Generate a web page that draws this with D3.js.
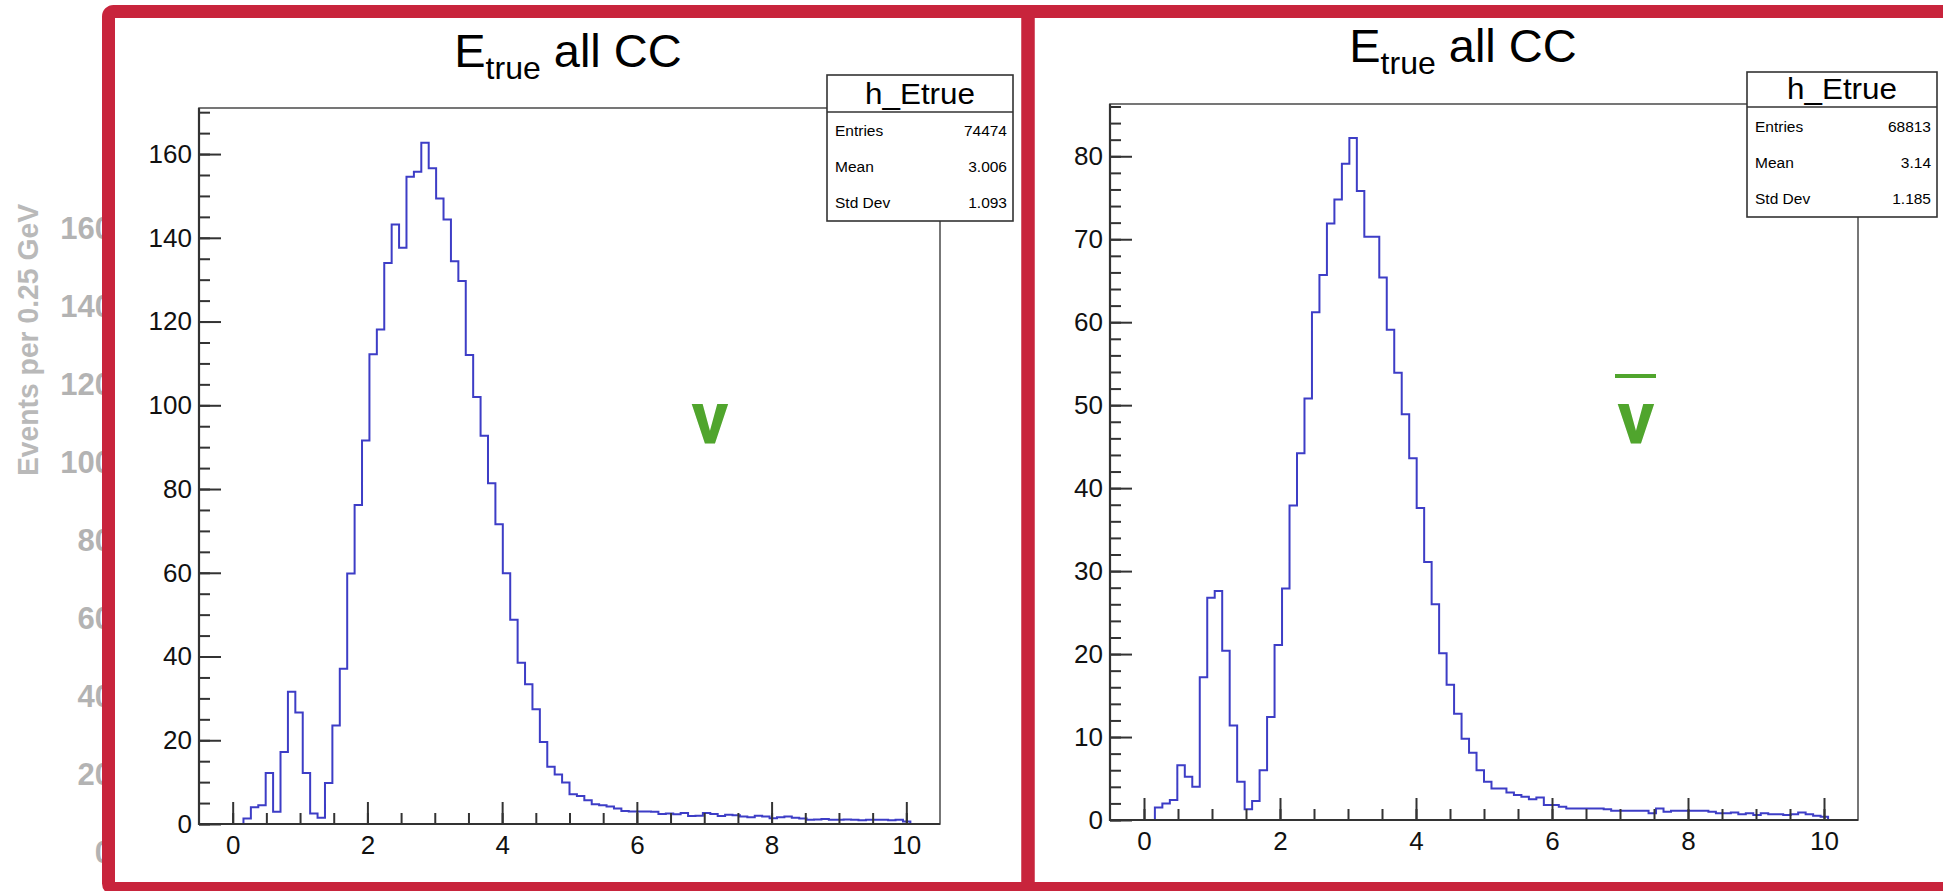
<!DOCTYPE html>
<html>
<head>
<meta charset="utf-8">
<script src="https://cdn.jsdelivr.net/npm/d3@7"></script>
<style>
  html, body { margin: 0; padding: 0; background: #ffffff; }
  svg { display: block; }
  text { font-family: "Liberation Sans", Arial, Helvetica, sans-serif; }
</style>
</head>
<body>
<svg id="chart" width="1943" height="891"></svg>
<script>
// Histogram binning: 100 bins of 0.11 GeV from -0.5 to 10.5; counts start at bin 6
const binLow = -0.5;
const binWidth = 0.11;
const firstFilledBin = 6;

// Neutrino (nu) CC true-energy histogram contents, bins 6..95
const nuCounts = [1.3, 4.0, 4.5, 12.2, 2.9, 17.2, 31.6, 26.6, 12.2, 2.5, 1.5, 9.8, 23.5, 37.1, 59.8, 76.2,
  91.6, 112.2, 118.1, 134.0, 143.2, 137.6, 154.6, 155.8, 162.7, 156.6, 149.4, 144.4, 134.4, 129.7, 112.0, 102.0,
  92.7, 81.4, 71.6, 59.9, 48.8, 38.5, 33.4, 27.4, 19.6, 13.7,
  11.8, 9.9, 7.1, 6.7, 5.7, 4.7, 4.5, 4.2, 3.7, 3.1, 3.0, 3.0, 3.0, 2.9, 2.4, 2.5, 2.3, 2.6, 1.9, 2.0,
  2.6, 2.4, 1.9, 2.2, 2.1, 1.8, 1.6, 2.0, 1.8, 1.4, 1.6, 1.8, 1.5, 1.3, 1.0, 1.1, 1.2, 1.0, 1.0, 1.1,
  1.0, 0.9, 1.0, 1.0, 1.0, 0.9, 1.0, 0.6];

// Antineutrino (nu-bar) CC true-energy histogram contents, bins 6..95
const nubarCounts = [1.5, 2.0, 2.4, 6.6, 5.2, 4.0, 17.2, 26.8, 27.6, 20.4, 11.4, 4.6, 1.3, 2.3, 6.0, 12.4, 21.1, 27.9, 37.9,
  44.2, 50.8, 61.2, 65.7, 71.9, 74.8, 79.1, 82.2, 75.8, 70.3, 70.3, 65.4, 59.1, 53.9, 48.9, 43.6, 37.6, 31.1,
  26.0, 20.1, 16.3, 12.8, 9.8, 8.1, 6.0,
  4.6, 3.8, 3.8, 3.3, 3.0, 2.8, 2.5, 2.7, 1.8, 1.8, 1.6, 1.4, 1.4, 1.4, 1.4, 1.4, 1.3, 1.1, 1.1, 1.1,
  1.1, 1.1, 0.8, 1.4, 1.0, 1.1, 1.1, 1.1, 1.1, 1.1, 1.0, 0.8, 0.8, 0.9, 0.7, 0.8, 0.6, 0.8, 0.7, 0.7,
  0.6, 0.7, 0.9, 0.7, 0.5, 0.4];

// Axis tick values
const xMajorTicks = [0, 2, 4, 6, 8, 10];
const xMinorTicks = d3.range(0, 10.01, 0.5);
const nuYMajorTicks = [0, 20, 40, 60, 80, 100, 120, 140, 160];
const nuYMinorTicks = d3.range(0, 171, 5);
const nubarYMajorTicks = [0, 10, 20, 30, 40, 50, 60, 70, 80];
const nubarYMinorTicks = d3.range(0, 87, 2);

// Statistics box contents
const nuStats = [["Entries", "74474"], ["Mean", "3.006"], ["Std Dev", "1.093"]];
const nubarStats = [["Entries", "68813"], ["Mean", "3.14"], ["Std Dev", "1.185"]];

// Background slide axis labels peeking out on the far left
const backLabels = ["160", "140", "120", "100", "80", "60", "40", "20", "0"];

const svg = d3.select("#chart");
const RED = "#c8243c";
const BLUE = "#3d3dc6";
const GREEN = "#50a52d";

// ---- background slide fragment (left edge) ----
svg.append("text")
  .attr("transform", "translate(38,340) rotate(-90)")
  .attr("text-anchor", "middle")
  .attr("font-size", 29).attr("font-weight", "bold")
  .attr("fill", "#b9b9b9")
  .attr("textLength", 272).attr("lengthAdjust", "spacingAndGlyphs")
  .text("Events per 0.25 GeV");

const backY = d3.scalePoint().domain(backLabels).range([228, 852]);
svg.selectAll("text.back").data(backLabels).enter().append("text")
  .attr("class", "back")
  .attr("x", 112).attr("y", d => backY(d) + 11)
  .attr("text-anchor", "end")
  .attr("font-size", 31).attr("font-weight", "bold")
  .attr("fill", "#b3b3b3")
  .text(d => d);

// ---- one histogram panel ----
function drawPanel(cfg) {
  const g = svg.append("g");
  const x = d3.scaleLinear().domain([-0.5, 10.5]).range([cfg.left, cfg.right]);
  const y = d3.scaleLinear().domain([0, cfg.ymax]).range([cfg.bottom, cfg.top]);

  // plot frame (top / right edges)
  g.append("rect")
    .attr("x", cfg.left).attr("y", cfg.top)
    .attr("width", cfg.right - cfg.left).attr("height", cfg.bottom - cfg.top)
    .attr("fill", "none").attr("stroke", "#555").attr("stroke-width", 1.6);

  // histogram outline
  const pts = [{ e: binLow + firstFilledBin * binWidth, v: 0 }];
  cfg.counts.forEach((v, i) => pts.push({ e: binLow + (firstFilledBin + i) * binWidth, v: v }));
  pts.push({ e: binLow + (firstFilledBin + cfg.counts.length) * binWidth, v: 0 });
  const line = d3.line().x(d => x(d.e)).y(d => y(d.v)).curve(d3.curveStepAfter);
  g.append("path").datum(pts)
    .attr("d", line)
    .attr("fill", "none").attr("stroke", BLUE).attr("stroke-width", 2)
    .attr("stroke-linejoin", "miter");

  // axes: minor + major ticks drawn inward
  const yMinor = d3.axisLeft(y).tickValues(cfg.yMinor).tickSize(-11).tickFormat("");
  const yMajor = d3.axisLeft(y).tickValues(cfg.yMajor).tickSize(-22).tickPadding(7).tickFormat(d3.format("d"));
  const xMinor = d3.axisBottom(x).tickValues(xMinorTicks).tickSize(-11).tickFormat("");
  const xMajor = d3.axisBottom(x).tickValues(xMajorTicks).tickSize(-22).tickPadding(12).tickFormat(d3.format("d"));

  [yMinor, yMajor].forEach(ax => {
    const a = g.append("g").attr("transform", `translate(${cfg.left},0)`).call(ax);
    a.select(".domain").remove();
  });
  [xMinor, xMajor].forEach(ax => {
    const a = g.append("g").attr("transform", `translate(0,${cfg.bottom})`).call(ax);
    a.select(".domain").remove();
  });
  g.selectAll(".tick line").attr("stroke", "#333").attr("stroke-width", 2);
  g.selectAll(".tick text").attr("font-size", 26).attr("fill", "#111")
    .style("font-family", "'Liberation Sans', Arial, sans-serif");

  // axis lines
  g.append("line").attr("x1", cfg.left).attr("x2", cfg.left)
    .attr("y1", cfg.top).attr("y2", cfg.bottom + 1)
    .attr("stroke", "#333").attr("stroke-width", 2.2);
  g.append("line").attr("x1", cfg.left - 1).attr("x2", cfg.right)
    .attr("y1", cfg.bottom).attr("y2", cfg.bottom)
    .attr("stroke", "#333").attr("stroke-width", 2.2);

  // title  E_true all CC
  const t = g.append("text")
    .attr("x", cfg.titleX).attr("y", cfg.titleY)
    .attr("text-anchor", "middle").attr("font-size", 47).attr("fill", "#000");
  t.append("tspan").text("E");
  t.append("tspan").attr("font-size", 32).attr("dy", 12).text("true");
  t.append("tspan").attr("dy", -12).text(" all CC");

  // statistics box
  const sb = cfg.stats;
  const sg = g.append("g");
  sg.append("rect").attr("x", sb.x).attr("y", sb.y).attr("width", sb.w).attr("height", sb.h)
    .attr("fill", "#fff").attr("stroke", "#333").attr("stroke-width", 1.6);
  sg.append("line").attr("x1", sb.x).attr("x2", sb.x + sb.w)
    .attr("y1", sb.div).attr("y2", sb.div).attr("stroke", "#333").attr("stroke-width", 1.6);
  sg.append("text").attr("x", sb.x + sb.w / 2).attr("y", sb.div - 8)
    .attr("text-anchor", "middle").attr("font-size", 30).attr("fill", "#000")
    .attr("textLength", 110).attr("lengthAdjust", "spacingAndGlyphs").text("h_Etrue");
  sb.rows.forEach((r, i) => {
    const yy = sb.firstRow + i * sb.rowStep;
    sg.append("text").attr("x", sb.x + 8).attr("y", yy).attr("font-size", 15.5).attr("fill", "#000").text(r[0]);
    sg.append("text").attr("x", sb.x + sb.w - 6).attr("y", yy).attr("text-anchor", "end")
      .attr("font-size", 15.5).attr("fill", "#000").text(r[1]);
  });

  // neutrino label (straight-stroked nu)
  g.append("text").attr("x", cfg.nuX).attr("y", 443)
    .attr("text-anchor", "middle").attr("font-size", 74).attr("font-weight", "bold")
    .style("font-family", "Roboto, 'Liberation Sans', sans-serif")
    .attr("fill", GREEN).text("ν");
  if (cfg.bar) {
    g.append("line").attr("x1", cfg.nuX - 21).attr("x2", cfg.nuX + 20)
      .attr("y1", 376).attr("y2", 376).attr("stroke", GREEN).attr("stroke-width", 4);
  }
}

drawPanel({
  left: 199, right: 940, top: 108, bottom: 824,
  ymax: 171, counts: nuCounts, yMajor: nuYMajorTicks, yMinor: nuYMinorTicks,
  titleX: 568, titleY: 67,
  stats: { x: 827, y: 75, w: 186, h: 146, div: 112, firstRow: 136, rowStep: 36, rows: nuStats },
  nuX: 710, bar: false
});

drawPanel({
  left: 1110, right: 1858, top: 104, bottom: 820,
  ymax: 86.3, counts: nubarCounts, yMajor: nubarYMajorTicks, yMinor: nubarYMinorTicks,
  titleX: 1463, titleY: 62,
  stats: { x: 1747, y: 72, w: 190, h: 145, div: 107, firstRow: 132, rowStep: 36, rows: nubarStats },
  nuX: 1636, bar: true
});

// ---- red highlight frames ----
svg.append("rect").attr("x", 108.5).attr("y", 11.5).attr("width", 1028 - 108.5).attr("height", 877)
  .attr("rx", 5).attr("fill", "none").attr("stroke", RED).attr("stroke-width", 13);
svg.append("rect").attr("x", 1028).attr("y", 11.5).attr("width", 960).attr("height", 877)
  .attr("fill", "none").attr("stroke", RED).attr("stroke-width", 13);
</script>
</body>
</html>
